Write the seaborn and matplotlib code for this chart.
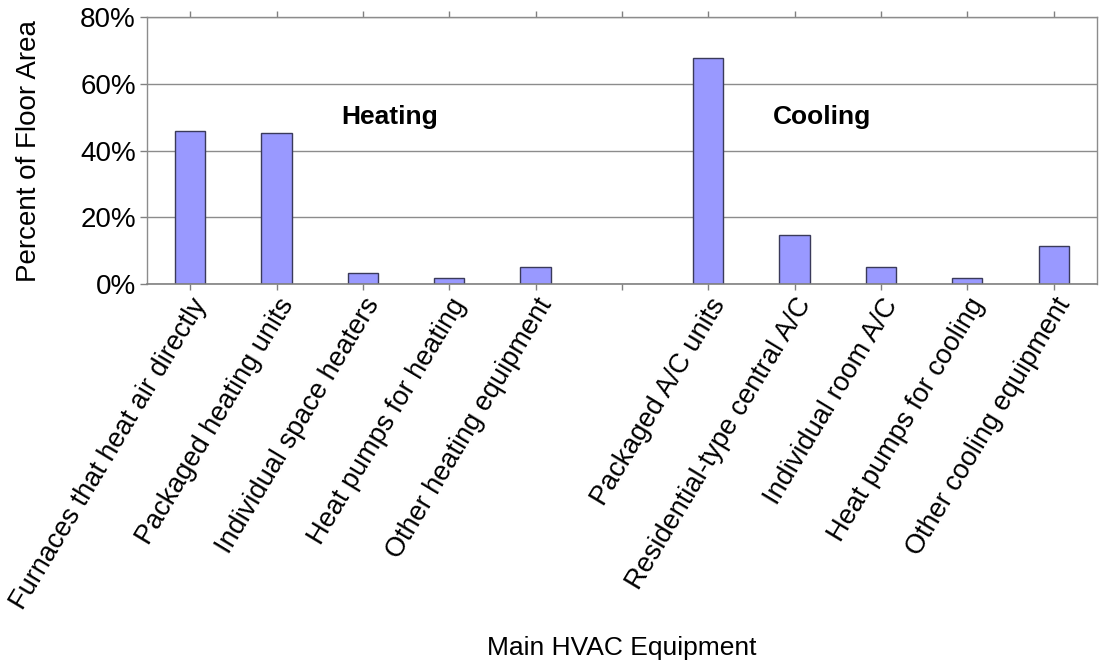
import matplotlib
matplotlib.use("Agg")
import matplotlib.pyplot as plt
import seaborn as sns
import pandas as pd
import numpy as np
from matplotlib.ticker import FuncFormatter, MultipleLocator

categories = [
    "Furnaces that heat air directly",
    "Packaged heating units",
    "Individual space heaters",
    "Heat pumps for heating",
    "Other heating equipment",
    " ",
    "Packaged A/C units",
    "Residential-type central A/C",
    "Individual room A/C",
    "Heat pumps for cooling",
    "Other cooling equipment",
]
values = [45.8, 45.2, 3.2, 1.7, 5.0, np.nan, 67.7, 14.7, 5.2, 1.7, 11.4]
group_labels = ["Heating", "Cooling"]
group_label_pos = [2.31, 7.32]
group_label_y = [50, 50]

sns.set_theme(style="white")
plt.rcParams["font.family"] = ["Liberation Sans", "DejaVu Sans"]

df = pd.DataFrame({"cat": categories, "val": values})

fig = plt.figure(figsize=(10.99, 6.63), dpi=100)
ax = fig.add_axes([0.1338, 0.5717, 0.998 - 0.1338, 0.974 - 0.5717])

sns.barplot(data=df, x="cat", y="val", order=categories, color="#9999FF",
            saturation=1, width=0.35, edgecolor="#3a3a5a", linewidth=1.0, ax=ax)

ax.set_ylim(0, 80)
ax.set_xlim(-0.5, len(categories) - 0.5)
ax.yaxis.set_major_locator(MultipleLocator(20))
ax.yaxis.set_major_formatter(FuncFormatter(lambda v, p: f"{v:.0f}%"))
ax.grid(axis="y", color="#8c8c8c", linewidth=1.0)
ax.set_axisbelow(True)

for s in ["left", "right", "top"]:
    ax.spines[s].set_visible(True)
    ax.spines[s].set_color("#8c8c8c")
    ax.spines[s].set_linewidth(1.0)
ax.spines["bottom"].set_visible(True)
ax.spines["bottom"].set_color("#808080")
ax.spines["bottom"].set_linewidth(1.2)

ax.tick_params(axis="x", which="both", bottom=True, top=True, direction="out",
               length=4, width=1, color="#808080", labelsize=19.5, pad=3)
ax.tick_params(axis="y", left=True, direction="out", length=5, width=1,
               color="#808080", labelsize=20, pad=3)
ax.set_xticks(range(len(categories)))
ax.set_xticklabels(categories, rotation=59, ha="right", rotation_mode="anchor")
for lbl in ax.get_xticklabels():
    lbl.set_color("black")
for lbl in ax.get_yticklabels():
    lbl.set_color("black")

ax.set_xlabel("Main HVAC Equipment", fontsize=19, color="black")
ax.set_ylabel("Percent of Floor Area", fontsize=20, color="black")
ax.xaxis.set_label_coords(0.5, -1.318)
ax.yaxis.set_label_coords(-0.1105, 0.5)

for t, xp, yp in zip(group_labels, group_label_pos, group_label_y):
    ax.text(xp, yp, t, fontsize=19, fontweight="bold", ha="center", va="center", color="black")

fig.savefig("out.png", dpi=100)
